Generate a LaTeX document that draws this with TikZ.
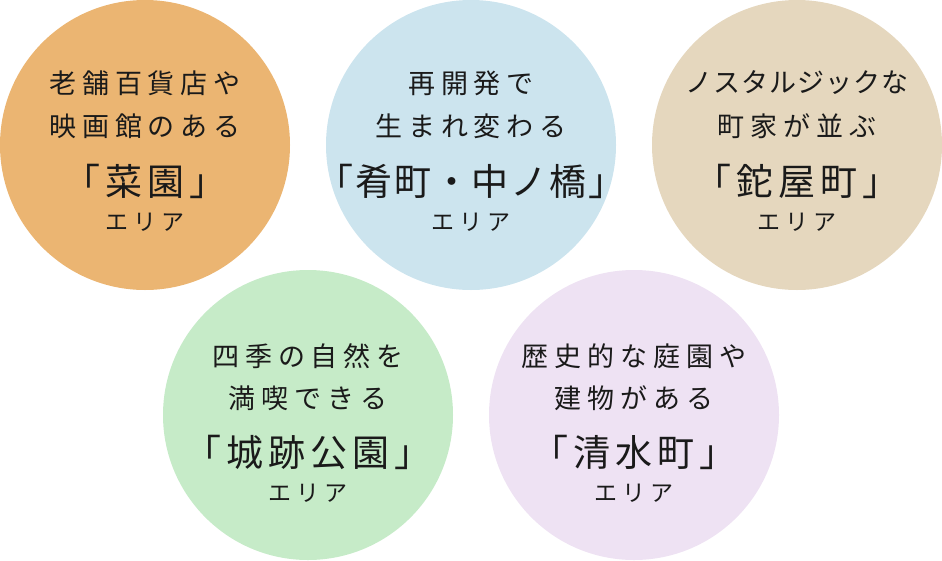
\documentclass[tikz,border=0pt]{standalone}
\usepackage{fontspec}
\newfontfamily\jpfont{Noto Sans CJK JP}
\usetikzlibrary{positioning}

\definecolor{saien}{HTML}{EBB572}
\definecolor{sakana}{HTML}{CCE4EE}
\definecolor{kagoya}{HTML}{E5D7BE}
\definecolor{joseki}{HTML}{C6EBC8}
\definecolor{shimizu}{HTML}{EEE2F3}
\definecolor{ink}{HTML}{1A1A1A}

\tikzset{
  area/.style={circle, minimum size=290pt, inner sep=0pt, draw=none},
  lead/.style={text=ink, inner sep=0pt,
    font=\jpfont\fontsize{27}{27}\selectfont\addfontfeature{LetterSpace=22}},
  leadtight/.style={lead,
    font=\jpfont\fontsize{27}{27}\selectfont\addfontfeature{LetterSpace=4}},
  place/.style={text=ink, inner sep=0pt,
    font=\jpfont\fontsize{37}{37}\selectfont\addfontfeature{LetterSpace=13}},
  placetight/.style={place,
    font=\jpfont\fontsize{37}{37}\selectfont\addfontfeature{LetterSpace=5}},
  suffix/.style={text=ink, inner sep=0pt,
    font=\jpfont\fontsize{23}{23}\selectfont\addfontfeature{LetterSpace=22}}
}

\begin{document}
\begin{tikzpicture}[x=1pt, y=-1pt]
    \useasboundingbox (0, 0) rectangle (942, 560);

    % circles
    \node[area, fill=saien] (saien) at (145, 145) {};
    \node[area, fill=sakana] (sakana) at (471, 145) {};
    \node[area, fill=kagoya] (kagoya) at (797, 145) {};
    \node[area, fill=joseki] (joseki) at (308, 415) {};
    \node[area, fill=shimizu] (shimizu) at (634, 415) {};

    % saien
    \node[lead] (saien-a) at ([yshift=62pt]saien.center) {老舗百貨店や};
    \node[lead] (saien-b) at ([yshift=19pt]saien.center) {映画館のある};
    \node[place] (saien-c) at ([yshift=-36pt]saien.center) {「菜園」};
    \node[suffix] (saien-d) at ([yshift=-77pt]saien.center) {エリア};

    % sakana
    \node[lead] (sakana-a) at ([yshift=62pt]sakana.center) {再開発で};
    \node[lead] (sakana-b) at ([yshift=19pt]sakana.center) {生まれ変わる};
    \node[placetight] (sakana-c) at ([yshift=-36pt]sakana.center) {「肴町・中ノ橋」};
    \node[suffix] (sakana-d) at ([yshift=-77pt]sakana.center) {エリア};

    % kagoya
    \node[leadtight] (kagoya-a) at ([yshift=62pt]kagoya.center) {ノスタルジックな};
    \node[lead] (kagoya-b) at ([yshift=19pt]kagoya.center) {町家が並ぶ};
    \node[place] (kagoya-c) at ([yshift=-36pt]kagoya.center) {「鉈屋町」};
    \node[suffix] (kagoya-d) at ([yshift=-77pt]kagoya.center) {エリア};

    % joseki
    \node[lead] (joseki-a) at ([yshift=59pt]joseki.center) {四季の自然を};
    \node[lead] (joseki-b) at ([yshift=17pt]joseki.center) {満喫できる};
    \node[place] (joseki-c) at ([yshift=-37pt]joseki.center) {「城跡公園」};
    \node[suffix] (joseki-d) at ([yshift=-78pt]joseki.center) {エリア};

    % shimizu
    \node[lead] (shimizu-a) at ([yshift=59pt]shimizu.center) {歴史的な庭園や};
    \node[lead] (shimizu-b) at ([yshift=17pt]shimizu.center) {建物がある};
    \node[place] (shimizu-c) at ([yshift=-37pt]shimizu.center) {「清水町」};
    \node[suffix] (shimizu-d) at ([yshift=-78pt]shimizu.center) {エリア};
\end{tikzpicture}
\end{document}
